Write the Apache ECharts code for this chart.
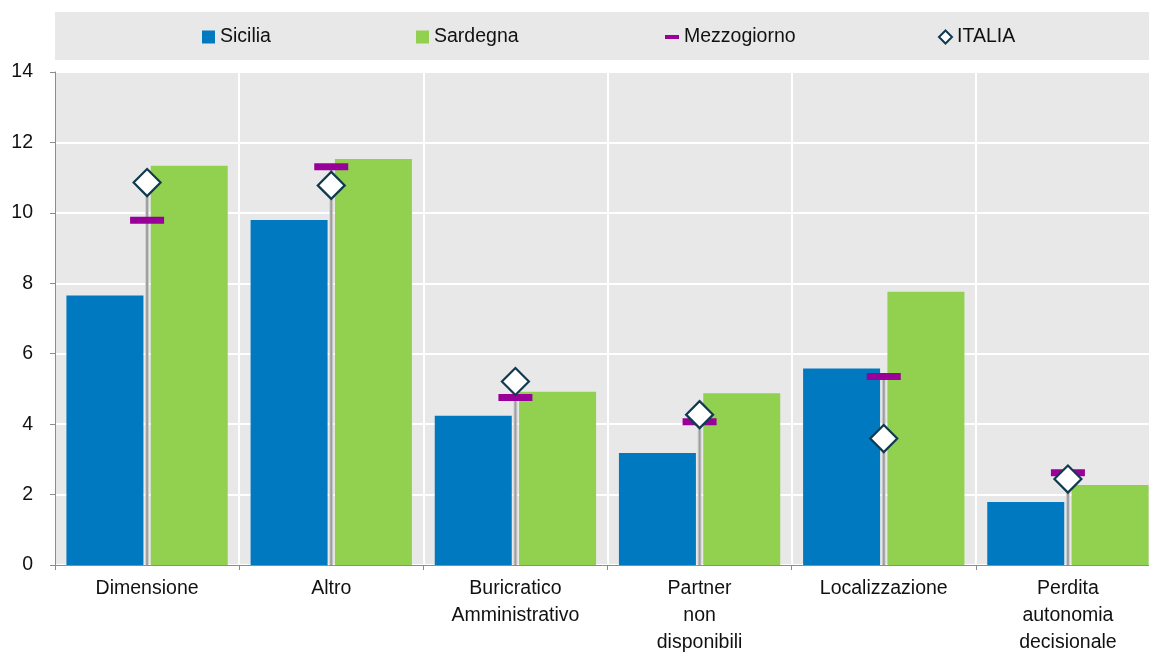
<!DOCTYPE html>
<html>
<head>
<meta charset="utf-8">
<style>
  html, body { margin: 0; padding: 0; background: #fff; }
  #chart { width: 1149px; height: 652px; }
</style>
<script src="https://cdn.jsdelivr.net/npm/echarts@6/dist/echarts.min.js"></script>
</head>
<body>
<div id="chart"></div>
<script>
// Motivi di rinuncia: confronto regionale (valori percentuali)
const categories = [
  'Dimensione',
  'Altro',
  'Buricratico\nAmministrativo',
  'Partner\nnon\ndisponibili',
  'Localizzazione',
  'Perdita\nautonomia\ndecisionale'
];
const sicilia     = [7.65, 9.80, 4.24, 3.18, 5.58, 1.79];
const sardegna    = [11.34, 11.53, 4.92, 4.88, 7.76, 2.27];
const mezzogiorno = [9.79, 11.31, 4.76, 4.07, 5.35, 2.62];
const italia      = [10.86, 10.78, 5.21, 4.27, 3.59, 2.44];
const yMin = 0, yMax = 14, yStep = 2;

const FONT = '"Liberation Sans", Arial, sans-serif';
const TEXT_COLOR = '#111';
const BLUE = '#0079c1';
const GREEN = '#92d050';
const PURPLE = '#990099';
const DIAMOND_EDGE = '#0f3a4f';

// vertical guide from the axis up to the higher of the two reference markers
const stems = categories.map((c, i) => [i, Math.max(mezzogiorno[i], italia[i])]);

const legendText = { fontFamily: FONT, fontSize: 19.5, color: TEXT_COLOR, lineHeight: 20 };
const legendBase = { top: 27, padding: 0, selectedMode: false, textStyle: legendText };

const chart = echarts.init(document.getElementById('chart'), null, { renderer: 'canvas' });

chart.setOption({
  animation: false,
  backgroundColor: '#fff',
  graphic: [{
    type: 'rect', z: -10,
    shape: { x: 55, y: 12, width: 1094, height: 48 },
    style: { fill: '#e8e8e8' }
  }],
  legend: [
    Object.assign({}, legendBase, { left: 202, itemWidth: 13, itemHeight: 13,
      data: [{ name: 'Sicilia', icon: 'rect' }] }),
    Object.assign({}, legendBase, { left: 416, itemWidth: 13, itemHeight: 13,
      data: [{ name: 'Sardegna', icon: 'rect' }] }),
    Object.assign({}, legendBase, { left: 665, itemWidth: 14, itemHeight: 4,
      data: [{ name: 'Mezzogiorno', icon: 'rect' }] }),
    Object.assign({}, legendBase, { left: 938, itemWidth: 13, itemHeight: 13,
      data: [{ name: 'ITALIA', icon: 'diamond',
        itemStyle: { color: '#fff', borderColor: DIAMOND_EDGE, borderWidth: 2, opacity: 1 } }] })
  ],
  grid: {
    show: true, backgroundColor: '#e8e8e8', borderWidth: 0,
    left: 55, top: 72, width: 1105, height: 493,
    outerBoundsMode: 'none', containLabel: false
  },
  xAxis: {
    type: 'category',
    data: categories,
    axisLine: { show: true, lineStyle: { color: '#8c8c8c', width: 1 } },
    axisTick: { show: true, length: 5, lineStyle: { color: '#8c8c8c' } },
    splitLine: { show: true, lineStyle: { color: '#ffffff', width: 2 } },
    axisLabel: {
      interval: 0, margin: 10,
      fontFamily: FONT, fontSize: 19.5, lineHeight: 27, color: TEXT_COLOR
    }
  },
  yAxis: {
    type: 'value',
    min: yMin, max: yMax, interval: yStep,
    axisLine: { show: true, lineStyle: { color: '#8c8c8c', width: 1 } },
    axisTick: { show: true, length: 5, lineStyle: { color: '#8c8c8c' } },
    splitLine: { show: true, lineStyle: { color: '#ffffff', width: 2 } },
    axisLabel: { margin: 22, fontFamily: FONT, fontSize: 19.5, color: TEXT_COLOR }
  },
  series: [
    {
      name: 'Sicilia', type: 'bar', data: sicilia,
      barWidth: 77, barGap: '9.5%',
      itemStyle: { color: BLUE }, z: 2
    },
    {
      name: 'Sardegna', type: 'bar', data: sardegna,
      barWidth: 77,
      itemStyle: { color: GREEN }, z: 2
    },
    {
      name: 'guide', type: 'custom', data: stems, z: 3,
      encode: { x: 0, y: 1 },
      renderItem: function (params, api) {
        const base = api.coord([api.value(0), 0]);
        const top = api.coord([api.value(0), api.value(1)]);
        const h = base[1] - top[1];
        return {
          type: 'group',
          children: [
            { type: 'rect', shape: { x: base[0] - 2, y: top[1], width: 4, height: h },
              style: { fill: '#d2d2d2' } },
            { type: 'rect', shape: { x: base[0] - 1, y: top[1], width: 2, height: h },
              style: { fill: '#9e9e9e' } }
          ]
        };
      }
    },
    {
      name: 'Mezzogiorno', type: 'scatter', data: mezzogiorno, z: 4,
      symbol: 'rect', symbolSize: [34, 7],
      itemStyle: { color: PURPLE, opacity: 1 }
    },
    {
      name: 'ITALIA', type: 'scatter', data: italia, z: 5,
      symbol: 'diamond', symbolSize: 27,
      itemStyle: { color: '#ffffff', borderColor: DIAMOND_EDGE, borderWidth: 2.2, opacity: 1 }
    }
  ]
});
</script>
</body>
</html>
